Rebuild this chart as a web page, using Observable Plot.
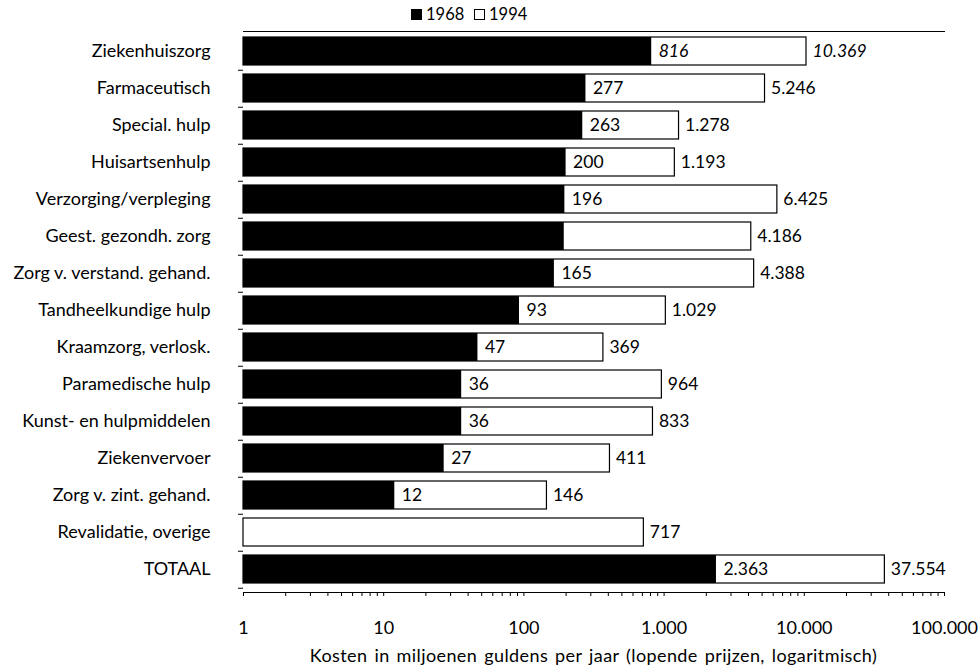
<!DOCTYPE html>
<html><head><meta charset="utf-8">
<script src="https://cdn.jsdelivr.net/npm/d3@7"></script>
<script src="https://cdn.jsdelivr.net/npm/@observablehq/plot@0.6"></script>
<style>
body{margin:0;background:#fff;font-family:Lato,"Open Sans",sans-serif;color:#000}
#legend{height:26px;position:relative;font-size:16.5px}
#legend .item{position:absolute;top:6px;display:flex;align-items:center;gap:4px;line-height:17px}
#legend .sw{display:inline-block;width:11px;height:11px;box-sizing:border-box;border:1px solid #000}
#chart svg{display:block}
#caption{padding-left:243px;padding-top:3px;width:701px;text-align:center;font-size:18px;line-height:22px;letter-spacing:0.4px;word-spacing:2px}
</style></head><body>
<div id="legend"></div>
<div id="chart"></div>
<div id="caption"></div>
<script>
const categories = ["Ziekenhuiszorg","Farmaceutisch","Special. hulp","Huisartsenhulp","Verzorging/verpleging","Geest. gezondh. zorg","Zorg v. verstand. gehand.","Tandheelkundige hulp","Kraamzorg, verlosk.","Paramedische hulp","Kunst- en hulpmiddelen","Ziekenvervoer","Zorg v. zint. gehand.","Revalidatie, overige","TOTAAL"];
const values1968 = [816,277,263,200,196,194,165,93,47,36,36,27,12,null,2363];
const values1994 = [10369,5246,1278,1193,6425,4186,4388,1029,369,964,833,411,146,717,37554];
const labelled1968 = [true,true,true,true,true,false,true,true,true,true,true,true,true,false,true];
const italicRows = ["Ziekenhuiszorg"];
const seriesNames = ["1968","1994"];
const xDomain = [1,100000];
const xTicks = [1,10,100,1000,10000,100000];
const xMinorMultipliers = [2,3,4,5,6,7,8,9];
const xLabel = "Kosten in miljoenen guldens per jaar (lopende prijzen, logaritmisch)";

const nl = d3.formatLocale({decimal:",",thousands:".",grouping:[3],currency:["",""]});
const fmt = nl.format(",d");

const rows = categories.map((c,i)=>({cat:c,v68:values1968[i],v94:values1994[i],lab68:labelled1968[i],it:italicRows.includes(c)}));
const minorTicks = xTicks.slice(0,-1).flatMap(t=>xMinorMultipliers.map(m=>t*m));

// legend
const lg = document.getElementById("legend");
const fills = ["#000","#fff"];
const lefts = [411,474];
seriesNames.forEach((s,i)=>{
  const d=document.createElement("div");d.className="item";d.style.left=lefts[i]+"px";
  d.innerHTML=`<span class="sw" style="background:${fills[i]}"></span><span>${s}</span>`;
  lg.appendChild(d);
});
document.getElementById("caption").textContent = xLabel;

const chart = Plot.plot({
  width:980,height:615,
  marginLeft:243,marginRight:36,marginTop:5,marginBottom:49,
  style:{fontFamily:"Lato, 'Open Sans', sans-serif",fontSize:"18px",color:"#000",background:"#fff"},
  x:{type:"log",domain:xDomain},
  y:{domain:categories,padding:0.2533,range:[-2.5,569.5]},
  marks:[
    Plot.barX(rows,{y:"cat",x1:xDomain[0],x2:"v94",fill:"#fff",stroke:"#000",strokeWidth:1.2}),
    Plot.barX(rows.filter(d=>d.v68!=null),{y:"cat",x1:xDomain[0],x2:"v68",fill:"#000"}),
    Plot.text(rows.filter(d=>d.lab68&&!d.it),{y:"cat",x:"v68",text:d=>fmt(d.v68),textAnchor:"start",dx:7,fontSize:17.5,fill:"#000"}),
    Plot.text(rows.filter(d=>d.lab68&&d.it),{y:"cat",x:"v68",text:d=>fmt(d.v68),textAnchor:"start",dx:7,fontSize:17.5,fill:"#000",fontStyle:"italic"}),
    Plot.text(rows.filter(d=>!d.it),{y:"cat",x:"v94",text:d=>fmt(d.v94),textAnchor:"start",dx:6,fontSize:17.5,fill:"#000"}),
    Plot.text(rows.filter(d=>d.it),{y:"cat",x:"v94",text:d=>fmt(d.v94),textAnchor:"start",dx:6,fontSize:17.5,fill:"#000",fontStyle:"italic"}),
    Plot.axisY({tickSize:0,tickPadding:33,fontSize:18,label:null}),
    Plot.axisY({tickSize:5,tickFormat:()=>"",dy:18.75,label:null}),
    Plot.axisX({ticks:xTicks,tickFormat:fmt,tickSize:4,tickPadding:25,fontSize:18,label:null}),
    Plot.axisX({ticks:minorTicks,tickFormat:()=>"",tickSize:4,label:null}),
    Plot.frame({anchor:"bottom"}),
    Plot.frame({anchor:"top"})
  ]
});
document.getElementById("chart").appendChild(chart);
</script>
</body></html>
